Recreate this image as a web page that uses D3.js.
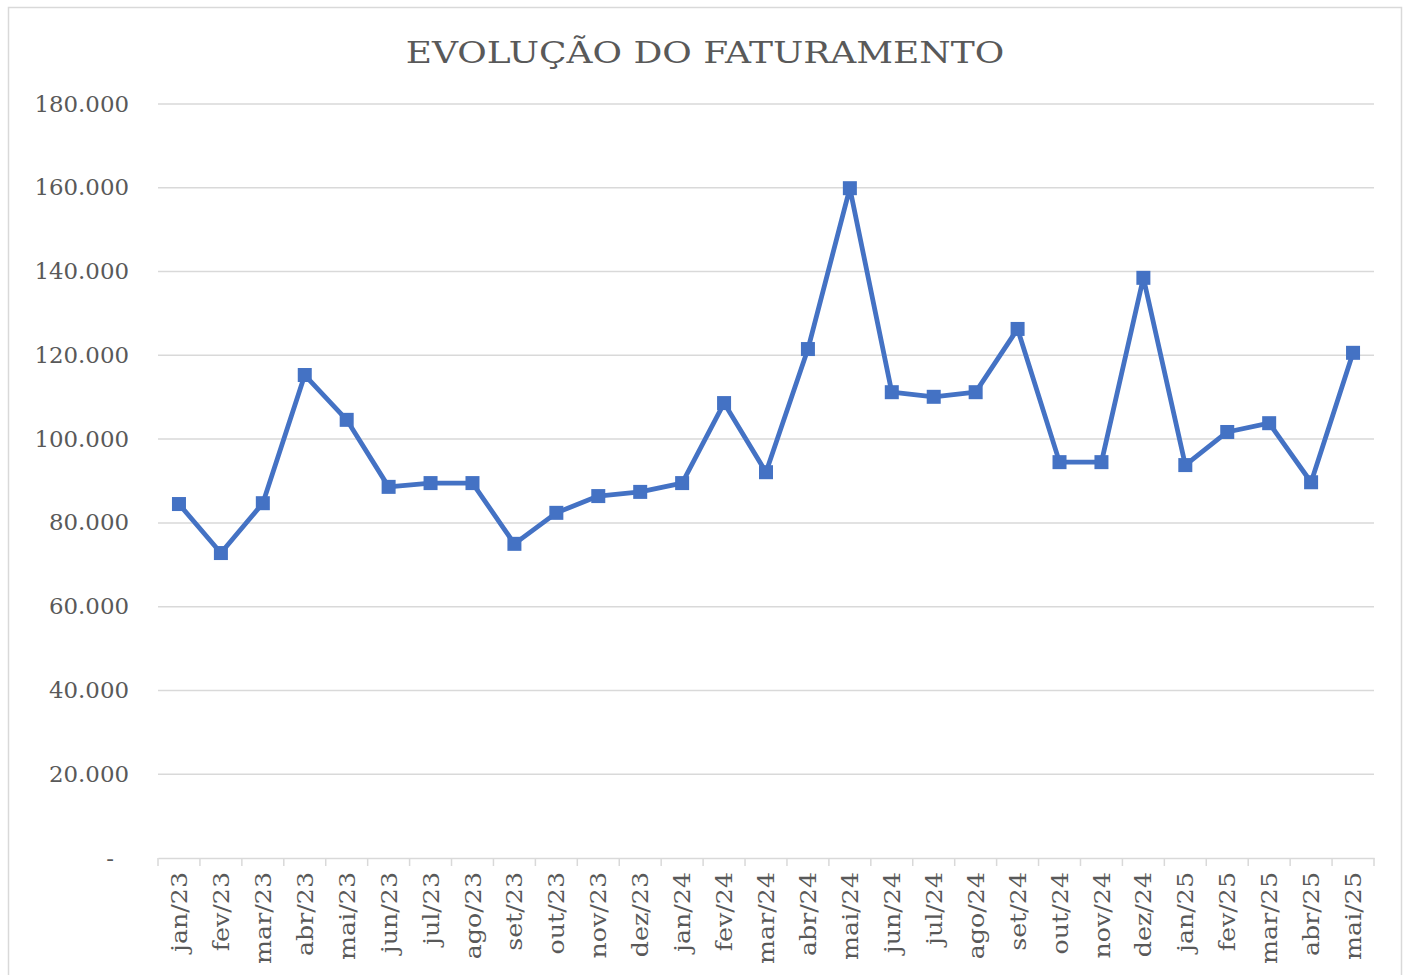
<!DOCTYPE html>
<html lang="pt">
<head>
<meta charset="utf-8">
<title>Evolução do faturamento</title>
<script src="https://d3js.org/d3.v7.min.js"></script>
<style>
  body { margin: 0; background: #fff; }
  text { font-family: "DejaVu Serif", "Liberation Serif", serif; fill: #595959; }
  .grid line { stroke: #d9d9d9; stroke-width: 1.5; }
</style>
</head>
<body>
<script>
// dados
var meses = ["jan/23","fev/23","mar/23","abr/23","mai/23","jun/23","jul/23","ago/23","set/23","out/23","nov/23","dez/23",
             "jan/24","fev/24","mar/24","abr/24","mai/24","jun/24","jul/24","ago/24","set/24","out/24","nov/24","dez/24",
             "jan/25","fev/25","mar/25","abr/25","mai/25"];
var faturamento = [84500, 72800, 84700, 115300, 104600, 88600, 89500, 89500, 75000, 82400, 86400, 87400,
                   89500, 108600, 92100, 121500, 159900, 111200, 110100, 111200, 126300, 94500, 94500, 138500,
                   93800, 101700, 103800, 89700, 120600];
var yTicks = [0, 20000, 40000, 60000, 80000, 100000, 120000, 140000, 160000, 180000];

var W = 1408, H = 975;
var m = {left: 158, right: 1374, top: 104, bottom: 858};

var svg = d3.select("body").append("svg")
    .attr("width", W).attr("height", H);

// alarga o texto (a fonte original é mais larga que a DejaVu Serif)
function alargar(sel, f) {
  sel.each(function() {
    var len = this.getComputedTextLength();
    d3.select(this).attr("textLength", len * f).attr("lengthAdjust", "spacingAndGlyphs");
  });
}

// moldura do gráfico
svg.append("rect")
    .attr("x", 8.5).attr("y", 7.5)
    .attr("width", 1393).attr("height", 980)
    .attr("fill", "#fff")
    .attr("stroke", "#d9d9d9").attr("stroke-width", 1.5);

svg.append("text")
    .attr("x", 705).attr("y", 63)
    .attr("text-anchor", "middle")
    .style("font-size", "29px")
    .text("EVOLUÇÃO DO FATURAMENTO")
    .call(alargar, 1.24);

var x = d3.scaleBand().domain(meses).range([m.left, m.right]);
var y = d3.scaleLinear().domain([0, 180000]).range([m.bottom, m.top]);

var fmt = function(v) {
  return v === 0 ? "-" : d3.format(",")(v).replace(/,/g, ".");
};

// linhas de grade
svg.append("g").attr("class", "grid")
  .selectAll("line").data(yTicks.filter(function(d) { return d > 0; }))
  .enter().append("line")
    .attr("x1", m.left).attr("x2", m.right)
    .attr("y1", function(d) { return y(d); })
    .attr("y2", function(d) { return y(d); });

// eixo y (só rótulos)
var yAxis = svg.append("g")
    .attr("transform", "translate(" + (m.left - 29) + ",0)")
    .call(d3.axisLeft(y).tickValues(yTicks).tickFormat(fmt).tickSize(0).tickPadding(0));
yAxis.select(".domain").remove();
yAxis.selectAll("text")
    .style("font-size", "22px")
    .attr("fill", "#595959")
    .attr("dx", function(d) { return d === 0 ? "-15px" : 0; })
    .call(alargar, 1.04);

// eixo x
var xAxis = svg.append("g")
    .attr("transform", "translate(0," + m.bottom + ")")
    .call(d3.axisBottom(x).tickSizeInner(0).tickSizeOuter(0));
xAxis.select(".domain").attr("stroke", "#d9d9d9").attr("stroke-width", 1.5);
xAxis.selectAll(".tick line").remove();
xAxis.selectAll(".tick text")
    .style("font-size", "23px")
    .attr("fill", "#595959")
    .attr("transform", "rotate(-90)")
    .attr("text-anchor", "end")
    .attr("x", -14).attr("y", 0).attr("dy", "0.35em")
    .call(alargar, 1.1);

// marcas de divisão entre categorias
var bordas = meses.map(function(d) { return x(d); }).concat([m.right]);
xAxis.selectAll(".div").data(bordas).enter().append("line")
    .attr("x1", function(d) { return d; }).attr("x2", function(d) { return d; })
    .attr("y1", 0).attr("y2", 8)
    .attr("stroke", "#d9d9d9").attr("stroke-width", 1.5);

// série
var cx = function(d, i) { return x(meses[i]) + x.bandwidth() / 2; };
var line = d3.line()
    .x(function(d, i) { return cx(d, i); })
    .y(function(d) { return y(d); });

svg.append("path")
    .datum(faturamento)
    .attr("d", line)
    .attr("fill", "none")
    .attr("stroke", "#4472c4")
    .attr("stroke-width", 4.8)
    .attr("stroke-linejoin", "round");

var s = 14;
svg.selectAll(".marker").data(faturamento).enter().append("rect")
    .attr("class", "marker")
    .attr("x", function(d, i) { return cx(d, i) - s / 2; })
    .attr("y", function(d) { return y(d) - s / 2; })
    .attr("width", s).attr("height", s)
    .attr("fill", "#4472c4");
</script>
</body>
</html>
